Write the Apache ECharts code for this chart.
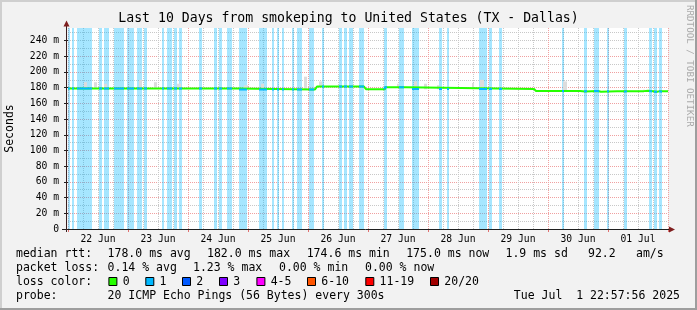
<!DOCTYPE html>
<html>
<head>
<meta charset="utf-8">
<script src="https://cdn.jsdelivr.net/npm/echarts@6/dist/echarts.min.js"></script>
<style>
  html, body { margin: 0; padding: 0; background: #f2f2f2; }
  #chart { width: 697px; height: 310px; }
</style>
</head>
<body>
<div id="chart"></div>
<script>
// x values are hours since 22 Jun 00:00, y values are ms
const dayLabels = ['22 Jun', '23 Jun', '24 Jun', '25 Jun', '26 Jun', '27 Jun', '28 Jun', '29 Jun', '30 Jun', '01 Jul']
const dayLabelHours = [12, 36, 60, 84, 108, 132, 156, 180, 204, 228]
const yLabelValues = [0, 20, 40, 60, 80, 100, 120, 140, 160, 180, 200, 220, 240]

// median rtt, step changes [hour, ms]
const medianRtt = [
  [0, 179.0], [67.6, 177.8], [98.8, 179.4], [99.6, 181.4], [118.4, 179.6], [119.2, 178.0],
  [126.8, 180.6], [135.2, 178.4], [186.4, 177.0], [187.2, 175.8], [195.6, 174.6], [196.4, 175.8],
  [204.8, 175.2], [206.8, 175.8], [212.0, 174.8], [213.2, 175.6], [219.6, 174.7], [220.4, 175.6],
  [222.4, 174.7], [223.2, 175.6], [224.8, 174.7], [225.6, 175.6], [228.0, 174.8], [228.8, 175.6],
  [230.4, 176.2], [232.0, 175.4], [234.0, 174.7], [235.6, 175.6], [236.8, 174.8], [237.6, 175.4],
  [240, 175.0]
]

// periods with 1/20 packet loss [from hour, to hour]
const lossBands = [
  [0, 0.8], [1.6, 2.4], [3.6, 9.6], [12.4, 13.6], [14.4, 16.4], [18.4, 22.4], [23.6, 26.4],
  [27.6, 29.6], [30.4, 31.6], [37.6, 38.4], [39.6, 41.6], [42.4, 43.6], [44.4, 45.6], [52.4, 53.6],
  [58.4, 59.6], [60.4, 61.6], [63.6, 65.6], [68.4, 71.6], [76.4, 79.6], [81.6, 82.4], [83.6, 84.4],
  [85.6, 86.4], [89.6, 90.4], [91.6, 93.6], [96.4, 98.4], [101.6, 102.4], [108.4, 109.6],
  [110.4, 111.6], [112.4, 114.0], [116.4, 118.4], [126.4, 127.6], [132.4, 134.4], [137.6, 140.4],
  [148.4, 149.6], [151.6, 152.4], [164.4, 167.6], [168.4, 169.6], [172.4, 173.6], [197.6, 198.4],
  [206.4, 207.6], [210.4, 212.4], [215.6, 216.4], [222.4, 223.6], [232.4, 233.6], [234.4, 235.6],
  [236.4, 237.6]
]

// smoke spikes [from hour, to hour, low ms, high ms]
const smoke = [
  [6.4, 7.6, 179, 187], [10.4, 11.6, 179, 187], [14.4, 15.6, 179, 185], [28.4, 29.6, 179, 190],
  [34.4, 35.6, 179, 187], [43.6, 45.2, 179, 185], [70.4, 72.0, 178, 183], [77.2, 78.4, 178, 185],
  [94.4, 95.6, 178, 194], [100.4, 101.6, 181, 188], [131.6, 132.4, 180, 185], [138.4, 139.6, 178, 188],
  [142.4, 143.6, 178, 185], [147.6, 148.4, 178, 183], [161.6, 162.4, 178, 186], [164.8, 166.4, 178, 190],
  [198.0, 199.6, 175, 188], [230.0, 230.8, 176, 177.5]
]

const lossColors = ['#26ff00', '#00b8ff', '#0059ff', '#7e00ff', '#ff00ff', '#ff5500', '#ff0000', '#a10000']
const lossLabels = ['0', '1', '2', '3', '4-5', '6-10', '11-19', '20/20']
const rttStats = ['178.0 ms avg', '182.0 ms max', '174.6 ms min', '175.0 ms now', '1.9 ms sd', '92.2', 'am/s']
const lossStats = ['0.14 % avg', '1.23 % max', '0.00 % min', '0.00 % now']
const probeText = '20 ICMP Echo Pings (56 Bytes) every 300s'
const stampText = 'Tue Jul  1 22:57:56 2025'

const yMax = 256
const mono = '"DejaVu Sans Mono", monospace'
const bandColor = 'rgba(0,184,255,0.35)'

// layout (pixels)
const G = { left: 68, top: 28, right: 29, bottom: 81 }
const plotBottom = 310 - G.bottom
const rttX = [107.6, 207, 306.7, 406.2, 505.5, 588, 636]
const lossX = [107.6, 193, 279, 365]
const swatchX = [108.4, 145.3, 182, 219, 256.4, 307, 365.3, 430]
const rowY = [254, 268, 282, 296]

// median segments that fall inside a loss period get the loss-1 colour
const stepValue = (t, inclusive) => {
  let v = medianRtt[0][1]
  medianRtt.forEach((p) => { if (inclusive ? p[0] <= t : p[0] < t) v = p[1] })
  return v
}
const lossRtt = []
lossBands.forEach(([a, b]) => {
  lossRtt.push([a, stepValue(a, true)])
  medianRtt.forEach((p) => { if (p[0] > a && p[0] < b) lossRtt.push(p) })
  lossRtt.push([b, stepValue(b, false)])
  lossRtt.push([b, null])
})

const chart = echarts.init(document.getElementById('chart'))

const txt = (x, y, text, size, extra) => ({
  type: 'text', x: x, y: y, silent: true,
  style: Object.assign({ text: text, fill: '#000', font: size + 'px ' + mono, verticalAlign: 'middle' }, extra || {})
})

const graphics = [
  // frame shading
  { type: 'rect', shape: { x: 0, y: 0, width: 697, height: 2 }, style: { fill: '#cfcfcf' } },
  { type: 'rect', shape: { x: 0, y: 0, width: 2, height: 310 }, style: { fill: '#cfcfcf' } },
  { type: 'rect', shape: { x: 0, y: 308, width: 697, height: 2 }, style: { fill: '#9e9e9e' } },
  { type: 'rect', shape: { x: 695, y: 0, width: 2, height: 310 }, style: { fill: '#9e9e9e' } },
  // axes with arrows
  { type: 'line', z: 10, shape: { x1: 62, y1: plotBottom + 0.5, x2: 669, y2: plotBottom + 0.5 }, style: { stroke: '#1f1f1f', lineWidth: 1 } },
  { type: 'line', z: 10, shape: { x1: G.left - 1.5, y1: plotBottom + 3, x2: G.left - 1.5, y2: G.top - 2 }, style: { stroke: '#3a1f1f', lineWidth: 1 } },
  { type: 'polygon', z: 10, shape: { points: [[669, plotBottom - 2.5], [669, plotBottom + 3.5], [675, plotBottom + 0.5]] }, style: { fill: '#7f1f1f' } },
  { type: 'polygon', z: 10, shape: { points: [[G.left - 4.5, G.top - 1.5], [G.left + 1.5, G.top - 1.5], [G.left - 1.5, G.top - 7.5]] }, style: { fill: '#7f1f1f' } },
  // watermark
  txt(689, 5, 'RRDTOOL / TOBI OETIKER', 9.2, { fill: '#aaaaaa' }),
  // legend rows
  txt(16, rowY[0], 'median rtt:', 11.5),
  txt(16, rowY[1], 'packet loss:', 11.5),
  txt(16, rowY[2], 'loss color:', 11.5),
  txt(16, rowY[3], 'probe:', 11.5),
  txt(107.6, rowY[3], probeText, 11.5),
  txt(680, rowY[3], stampText, 11.5, { align: 'right' })
]
graphics[8].rotation = -Math.PI / 2
rttStats.forEach((s, i) => graphics.push(txt(rttX[i], rowY[0], s, 11.5)))
lossStats.forEach((s, i) => graphics.push(txt(lossX[i], rowY[1], s, 11.5)))
lossLabels.forEach((s, i) => {
  graphics.push({ type: 'rect', shape: { x: swatchX[i] + 0.5, y: rowY[2] - 4.5, width: 8, height: 8 }, style: { fill: lossColors[i], stroke: '#000', lineWidth: 1 } })
  graphics.push(txt(swatchX[i] + 14.3, rowY[2], s, 11.5))
})

const option = {
  backgroundColor: '#f2f2f2',
  animation: false,
  title: {
    text: 'Last 10 Days from smokeping to United States (TX - Dallas)',
    left: 'center', top: 12, padding: 0,
    textStyle: { fontFamily: mono, fontSize: 13.2, fontWeight: 'normal', color: '#000', lineHeight: 14 }
  },
  grid: {
    left: G.left, top: G.top, right: G.right, bottom: G.bottom,
    containLabel: false, outerBoundsMode: 'none',
    show: true, backgroundColor: '#ffffff', borderWidth: 0
  },
  xAxis: [
    {
      type: 'value', position: 'bottom', min: 0, max: 240, interval: 6,
      axisLine: { show: false }, axisTick: { show: false },
      splitLine: { show: true, lineStyle: { color: '#c8c8c8', width: 1, type: [1, 1] } },
      axisLabel: {
        customValues: dayLabelHours, margin: 5,
        formatter: (v) => dayLabels[dayLabelHours.indexOf(v)],
        fontFamily: mono, fontSize: 9.7, color: '#000'
      }
    },
    {
      type: 'value', position: 'bottom', min: 0, max: 240, interval: 24,
      axisLine: { show: false },
      axisTick: { show: true, length: 3, lineStyle: { color: '#e07070' } },
      axisLabel: { show: false },
      splitLine: { show: true, lineStyle: { color: '#f0a0a0', width: 1, type: [1, 1] } }
    }
  ],
  yAxis: [
    {
      type: 'value', position: 'left', min: 0, max: yMax, interval: 10,
      axisLine: { show: false }, axisTick: { show: false }, axisLabel: { show: false },
      splitLine: { show: true, showMaxLine: false, lineStyle: { color: '#c8c8c8', width: 1, type: [1, 1] } }
    },
    {
      type: 'value', position: 'left', min: 0, max: yMax, interval: 20, offset: 2,
      name: 'Seconds', nameLocation: 'middle', nameGap: 50,
      nameTextStyle: { fontFamily: mono, fontSize: 11.5, color: '#000' },
      axisLine: { show: false },
      axisTick: { show: true, length: 4, customValues: yLabelValues, lineStyle: { color: '#1f1f1f' } },
      axisLabel: {
        customValues: yLabelValues, margin: 7,
        formatter: (v) => v === 0 ? '0' : v + ' m',
        fontFamily: mono, fontSize: 9.7, color: '#000'
      },
      splitLine: { show: true, showMaxLine: false, lineStyle: { color: '#f0a0a0', width: 1, type: [1, 1] } }
    }
  ],
  series: [
    {
      // loss background bars
      type: 'custom', z: 1, silent: true,
      data: lossBands,
      encode: { x: [0, 1] },
      renderItem: (params, api) => {
        const p0 = api.coord([api.value(0), yMax])
        const p1 = api.coord([api.value(1), 0])
        return { type: 'rect', shape: { x: p0[0], y: p0[1], width: p1[0] - p0[0], height: p1[1] - p0[1] }, style: { fill: bandColor } }
      }
    },
    {
      // smoke
      type: 'custom', z: 2, silent: true,
      data: smoke,
      encode: { x: [0, 1], y: [2, 3] },
      renderItem: (params, api) => {
        const p0 = api.coord([api.value(0), api.value(3)])
        const p1 = api.coord([api.value(1), api.value(2)])
        return { type: 'rect', shape: { x: p0[0], y: p0[1], width: p1[0] - p0[0], height: p1[1] - p0[1] }, style: { fill: '#dcdcdc' } }
      }
    },
    {
      // median rtt, no loss
      type: 'line', z: 3, step: 'end', silent: true,
      showSymbol: false,
      data: medianRtt,
      lineStyle: { width: 2, color: lossColors[0] }
    },
    {
      // median rtt during 1/20 loss
      type: 'line', z: 4, step: 'end', silent: true,
      showSymbol: false, connectNulls: false,
      data: lossRtt,
      lineStyle: { width: 2, color: lossColors[1] }
    }
  ],
  graphic: graphics
}

chart.setOption(option)
</script>
</body>
</html>
